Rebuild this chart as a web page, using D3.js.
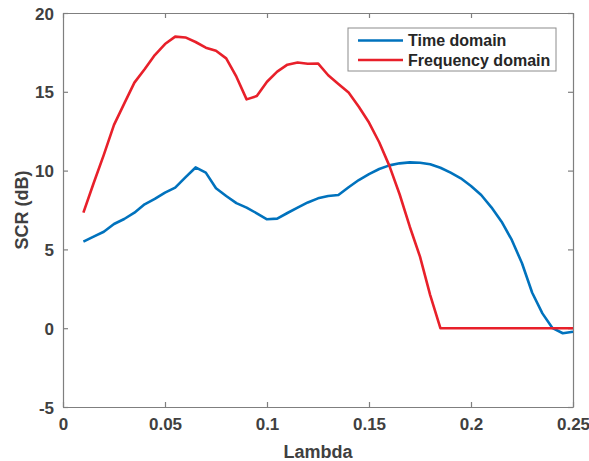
<!DOCTYPE html>
<html>
<head>
<meta charset="utf-8">
<script src="https://cdn.jsdelivr.net/npm/d3@7"></script>
<style>
  body { margin: 0; background: #fff; }
  svg text { font-family: "Liberation Sans", Arial, sans-serif; font-weight: bold; fill: #404040; }
</style>
</head>
<body>
<svg id="chart" width="589" height="461"></svg>
<script>
// lambda values, step 0.005
const lambda = d3.range(0, 49).map(function(i) { return +(0.01 + i * 0.005).toFixed(3); });

const timeDomain = [
  5.49, 5.81, 6.12, 6.61, 6.93, 7.33, 7.86, 8.2, 8.6, 8.92,
  9.57, 10.2, 9.87, 8.88, 8.39, 7.94, 7.65, 7.29, 6.91, 6.95,
  7.31, 7.65, 7.98, 8.24, 8.39, 8.45, 8.94, 9.4, 9.78, 10.1,
  10.33, 10.46, 10.52, 10.5, 10.4, 10.18, 9.87, 9.51, 9.02, 8.45,
  7.67, 6.76, 5.6, 4.12, 2.25, 0.94, 0.0, -0.32, -0.22
];

const freqDomain = [
  7.33, 9.2, 11.0, 12.9, 14.25, 15.58, 16.43, 17.33, 18.03, 18.5,
  18.45, 18.16, 17.8, 17.6, 17.12, 15.96, 14.52, 14.73, 15.64, 16.28,
  16.72, 16.86, 16.78, 16.8, 16.05, 15.5, 14.95, 14.05, 13.05, 11.8,
  10.3, 8.5, 6.44, 4.54, 2.1, 0, 0, 0, 0, 0,
  0, 0, 0, 0, 0, 0, 0, 0, 0
];

const xTicks = [0, 0.05, 0.1, 0.15, 0.2, 0.25];
const yTicks = [-5, 0, 5, 10, 15, 20];

const series = [
  {name: 'Time domain', values: timeDomain, color: '#0072BD'},
  {name: 'Frequency domain', values: freqDomain, color: '#E8202A'},
];

const margin = {top: 13, right: 16, bottom: 54, left: 63};
const totalWidth = 589;
const totalHeight = 461;
const width = totalWidth - margin.left - margin.right;
const height = totalHeight - margin.top - margin.bottom;

let x = d3.scaleLinear().domain([0, 0.25]).range([0, width]);
let y = d3.scaleLinear().domain([-5, 20]).range([height, 0]);

let svg = d3.select('#chart');
let g = svg.append('g')
    .attr('transform', 'translate(' + margin.left + ',' + margin.top + ')');

const axisColor = '#7f7f7f';
const tickLen = 5;

// axes with inward ticks
let xAxis = g.append('g')
    .attr('transform', 'translate(0,' + height + ')')
    .call(d3.axisBottom(x).tickValues(xTicks).tickSizeInner(-tickLen).tickSizeOuter(0)
      .tickPadding(11).tickFormat(function(d) { return String(+d.toFixed(2)); }));

let xAxisTop = g.append('g')
    .call(d3.axisTop(x).tickValues(xTicks).tickSizeInner(-tickLen).tickSizeOuter(0).tickFormat(''));

let yAxis = g.append('g')
    .call(d3.axisLeft(y).tickValues(yTicks).tickSizeInner(-tickLen).tickSizeOuter(0)
      .tickPadding(9).tickFormat(function(d) { return String(d); }));

let yAxisRight = g.append('g')
    .attr('transform', 'translate(' + width + ',0)')
    .call(d3.axisRight(y).tickValues(yTicks).tickSizeInner(-tickLen).tickSizeOuter(0).tickFormat(''));

[xAxis, xAxisTop, yAxis, yAxisRight].forEach(function(a) {
  a.select('.domain').attr('stroke', axisColor).attr('stroke-width', 1.2);
  a.selectAll('.tick line').attr('stroke', axisColor).attr('stroke-width', 1.2);
  a.selectAll('.tick text')
      .attr('fill', '#404040')
      .style('font-size', '17px')
      .style('font-family', '"Liberation Sans", Arial, sans-serif')
      .style('font-weight', 'bold');
});
yAxis.selectAll('.tick text').attr('dy', '0.36em');

// lines
let line = d3.line()
    .x(function(d, i) { return x(lambda[i]); })
    .y(function(d) { return y(d); });

g.selectAll('path.series')
    .data(series)
  .enter().append('path')
    .attr('class', 'series')
    .attr('fill', 'none')
    .attr('stroke', function(d) { return d.color; })
    .attr('stroke-width', 2.6)
    .attr('stroke-linejoin', 'round')
    .attr('d', function(d) { return line(d.values); });

// axis labels
g.append('text')
    .attr('x', width / 2)
    .attr('y', height + 51)
    .attr('text-anchor', 'middle')
    .style('font-size', '18px')
    .text('Lambda');

g.append('text')
    .attr('transform', 'translate(' + (-35) + ',' + (height / 2) + ') rotate(-90)')
    .attr('text-anchor', 'middle')
    .style('font-size', '18px')
    .text('SCR (dB)');

// legend
let legend = g.append('g')
    .attr('transform', 'translate(' + (348 - margin.left) + ',' + (28 - margin.top) + ')');

legend.append('rect')
    .attr('width', 208)
    .attr('height', 43)
    .attr('fill', '#fff')
    .attr('stroke', '#8c8c8c')
    .attr('stroke-width', 1);

let item = legend.selectAll('g.item')
    .data(series)
  .enter().append('g')
    .attr('class', 'item')
    .attr('transform', function(d, i) { return 'translate(0,' + (12.5 + i * 19.5) + ')'; });

item.append('line')
    .attr('x1', 10).attr('x2', 55)
    .attr('stroke', function(d) { return d.color; })
    .attr('stroke-width', 2.6);

item.append('text')
    .attr('x', 60)
    .attr('dy', '0.36em')
    .style('font-size', '16px')
    .style('fill', '#262626')
    .text(function(d) { return d.name; });
</script>
</body>
</html>
